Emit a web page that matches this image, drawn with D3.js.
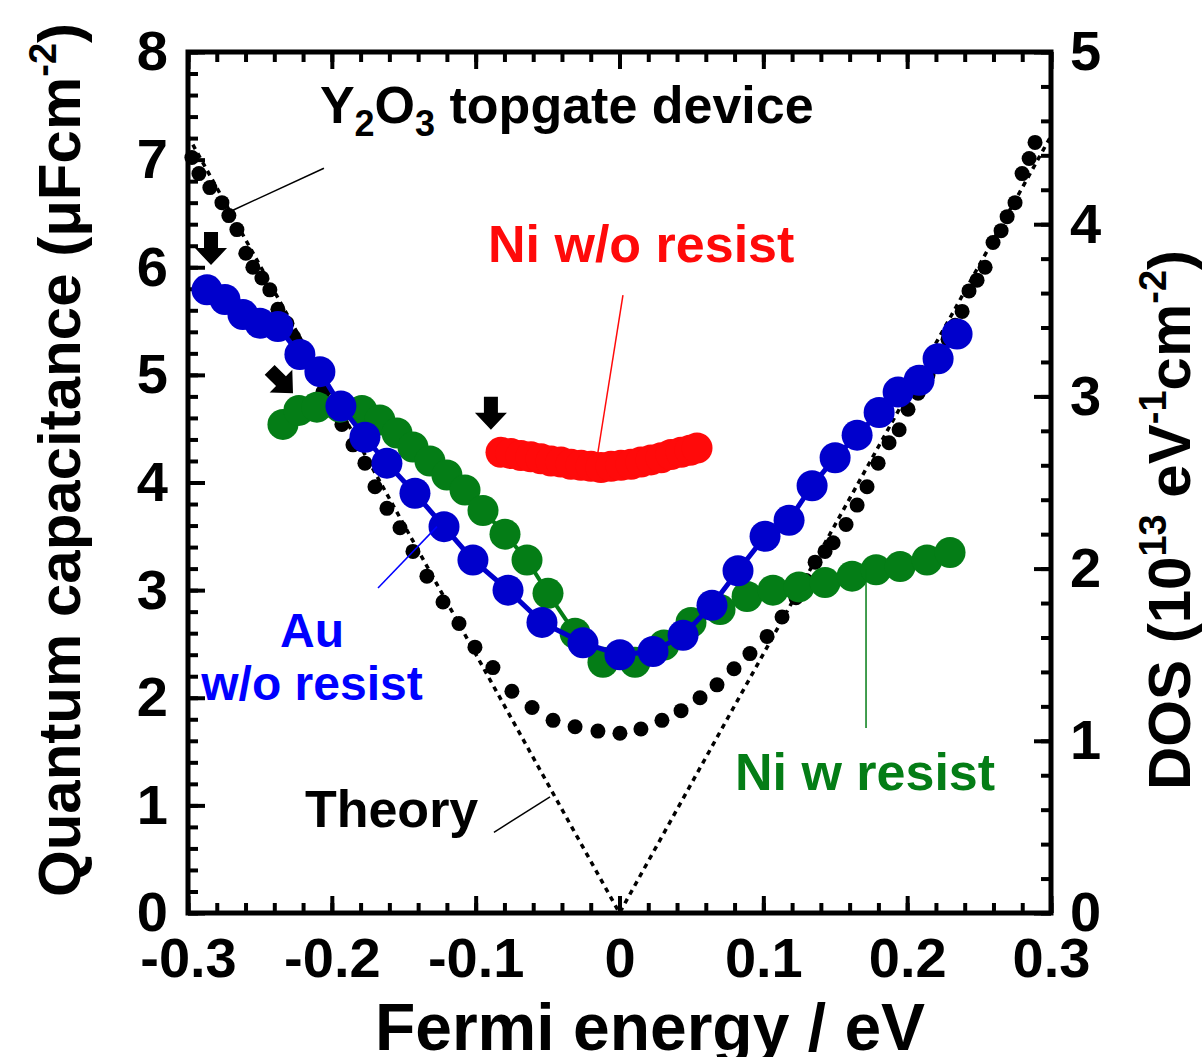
<!DOCTYPE html>
<html>
<head>
<meta charset="utf-8">
<script src="https://cdn.jsdelivr.net/npm/d3@7"></script>
<style>
  body { margin: 0; background: #fff; }
  text { font-family: "Liberation Sans", Arial, sans-serif; font-weight: bold; }
</style>
</head>
<body>
<svg width="1204" height="1057"></svg>
<script>
// tick values
var xTicks = [-0.3, -0.2, -0.1, 0, 0.1, 0.2, 0.3];
var leftTicks = [0, 1, 2, 3, 4, 5, 6, 7, 8];
var rightTicks = [0, 1, 2, 3, 4, 5];

// theory (linear DOS), dotted line
var theoryX = [-0.3, 0, 0.3];
var theoryY = [7.22, 0, 7.22];

// Y2O3 topgate device (small black dots)
var deviceX = [-0.2973, -0.2924, -0.2848, -0.2764, -0.2716, -0.266, -0.2598, -0.2549, -0.2486, -0.2431,
  -0.2375, -0.2312, -0.2264, -0.2187, -0.2131, -0.2062, -0.1999, -0.193, -0.1853, -0.177,
  -0.17, -0.1617, -0.1526, -0.1436, -0.1339, -0.1227, -0.1116, -0.1005, -0.088, -0.0748,
  -0.0608, -0.0462, -0.0309, -0.015, 0.0003, 0.0149, 0.0295, 0.0428, 0.056, 0.0678,
  0.0796, 0.0907, 0.1026, 0.113, 0.1227, 0.1297, 0.136, 0.1429, 0.1485, 0.1575,
  0.1652, 0.1721, 0.1798, 0.1874, 0.1944, 0.2006, 0.2076, 0.2145, 0.2215, 0.2284,
  0.2333, 0.2382, 0.243, 0.2486, 0.2542, 0.2597, 0.2653, 0.2695, 0.275, 0.2799,
  0.2848, 0.2889];
var deviceY = [7.02, 6.87, 6.74, 6.60, 6.48, 6.35, 6.13, 6.00, 5.90, 5.79,
  5.61, 5.48, 5.35, 5.14, 5.00, 4.84, 4.67, 4.54, 4.35, 4.18,
  3.96, 3.76, 3.58, 3.36, 3.13, 2.89, 2.69, 2.47, 2.28, 2.06,
  1.91, 1.79, 1.73, 1.69, 1.67, 1.71, 1.79, 1.88, 2.00, 2.12,
  2.27, 2.41, 2.57, 2.75, 2.93, 3.09, 3.26, 3.36, 3.44, 3.61,
  3.79, 3.96, 4.18, 4.37, 4.49, 4.68, 4.83, 5.00, 5.18, 5.33,
  5.46, 5.59, 5.78, 5.88, 6.00, 6.23, 6.34, 6.47, 6.60, 6.87,
  7.01, 7.16];

// Au w/o resist
var auX = [-0.2868, -0.2743, -0.2618, -0.25, -0.2375, -0.2222, -0.2083, -0.1937, -0.177, -0.1617,
  -0.1422, -0.122, -0.1019, -0.0775, -0.0539, -0.0254, 0.0003, 0.0233, 0.0442, 0.0643,
  0.0824, 0.1012, 0.1179, 0.1339, 0.1499, 0.1652, 0.1805, 0.1937, 0.2083, 0.2215, 0.2347];
var auY = [5.79, 5.70, 5.56, 5.48, 5.45, 5.19, 5.03, 4.71, 4.42, 4.18,
  3.90, 3.59, 3.28, 3.00, 2.70, 2.51, 2.40, 2.43, 2.58, 2.86,
  3.18, 3.50, 3.65, 3.97, 4.23, 4.44, 4.65, 4.84, 4.95, 5.15, 5.38];

// Ni w resist
var niResistX = [-0.234, -0.2229, -0.2104, -0.1944, -0.1791, -0.1666, -0.1547, -0.1436, -0.1318, -0.12,
  -0.1074, -0.0949, -0.0796, -0.0643, -0.0497, -0.0309, -0.0115, 0.0108, 0.0309, 0.0497,
  0.0699, 0.0887, 0.1067, 0.1248, 0.1429, 0.1617, 0.1784, 0.1951, 0.2138, 0.2298];
var niResistY = [4.54, 4.67, 4.70, 4.70, 4.67, 4.58, 4.46, 4.33, 4.20, 4.07,
  3.93, 3.74, 3.52, 3.28, 2.97, 2.60, 2.33, 2.33, 2.49, 2.70,
  2.82, 2.94, 3.00, 3.03, 3.07, 3.13, 3.19, 3.22, 3.28, 3.35];

// Ni w/o resist
var niX = [-0.0824, -0.0755, -0.0685, -0.0616, -0.0546, -0.0476, -0.0407, -0.0337, -0.0267, -0.0198,
  -0.0129, -0.0059, 0.001, 0.008, 0.0149, 0.0219, 0.0289, 0.0358, 0.0428, 0.049, 0.0539];
var niY = [4.28, 4.27, 4.25, 4.24, 4.22, 4.20, 4.19, 4.17, 4.16, 4.15,
  4.14, 4.15, 4.16, 4.17, 4.19, 4.21, 4.23, 4.26, 4.28, 4.30, 4.32];

var blue = "#0000cc", green = "#047d16", red = "#ff0a0a";

var margin = {top: 52, right: 153, bottom: 144, left: 188};
var width = 1204 - margin.left - margin.right;
var height = 1057 - margin.top - margin.bottom;

var svg = d3.select("svg");
var g = svg.append("g").attr("transform", "translate(" + margin.left + "," + margin.top + ")");

var xScale = d3.scaleLinear().domain([-0.3, 0.3]).range([0, width]);
var yScale = d3.scaleLinear().domain([0, 8]).range([height, 0]);
var y2Scale = d3.scaleLinear().domain([0, 5]).range([height, 0]);

var fmt = function(d) { return d === 0 ? "0" : d3.format(".1f")(d).replace("\u2212", "-"); };

function minorTicks(a, b, step) {
  var out = [];
  for (var i = 0; a + i * step <= b + 1e-9; i++) out.push(+(a + i * step).toFixed(4));
  return out;
}

// minor ticks
g.append("g").attr("transform", "translate(0," + height + ")")
  .call(d3.axisBottom(xScale).tickValues(minorTicks(-0.3, 0.3, 0.02)).tickSize(-10).tickFormat(""));
g.append("g")
  .call(d3.axisTop(xScale).tickValues(minorTicks(-0.3, 0.3, 0.02)).tickSize(-10).tickFormat(""));
g.append("g")
  .call(d3.axisLeft(yScale).tickValues(minorTicks(0, 8, 0.2)).tickSize(-10).tickFormat(""));
g.append("g").attr("transform", "translate(" + width + ",0)")
  .call(d3.axisRight(y2Scale).tickValues(minorTicks(0, 5, 0.2)).tickSize(-10).tickFormat(""));

// major ticks
g.append("g").attr("class", "x axis").attr("transform", "translate(0," + height + ")")
  .call(d3.axisBottom(xScale).tickValues(xTicks).tickSize(-17).tickPadding(24).tickFormat(fmt));
g.append("g")
  .call(d3.axisTop(xScale).tickValues(xTicks).tickSize(-17).tickFormat(""));
g.append("g").attr("class", "y axis")
  .call(d3.axisLeft(yScale).tickValues(leftTicks).tickSize(-17).tickPadding(20).tickFormat(d3.format("d")));
g.append("g").attr("class", "y axis").attr("transform", "translate(" + width + ",0)")
  .call(d3.axisRight(y2Scale).tickValues(rightTicks).tickSize(-17).tickPadding(19).tickFormat(d3.format("d")));

g.selectAll(".domain").remove();
g.selectAll(".tick line").attr("stroke", "#000").attr("stroke-width", 4);
g.selectAll(".tick text").attr("fill", "#000").style("font-size", "56px")
  .style("font-family", "'Liberation Sans', Arial, sans-serif").style("font-weight", "bold");

g.append("rect").attr("width", width).attr("height", height)
  .attr("fill", "none").attr("stroke", "#000").attr("stroke-width", 5);

// theory line
var theory = theoryX.map(function(d, i) { return {x: d, y: theoryY[i]}; });
var line = d3.line().x(function(d) { return xScale(d.x); }).y(function(d) { return yScale(d.y); });

g.append("path").datum(theory).attr("d", line)
  .attr("fill", "none").attr("stroke", "#000").attr("stroke-width", 3.5).attr("stroke-dasharray", "5,5");

// device dots
g.selectAll(".dev").data(deviceX).enter().append("circle")
  .attr("cx", function(d) { return xScale(d); })
  .attr("cy", function(d, i) { return yScale(deviceY[i]); })
  .attr("r", 7.5).attr("fill", "#000");

function series(xs, ys, color, lw) {
  var pts = xs.map(function(d, i) { return {x: d, y: ys[i]}; });
  if (lw) {
    g.append("path").datum(pts).attr("d", line)
      .attr("fill", "none").attr("stroke", color).attr("stroke-width", lw);
  }
  g.append("g").selectAll("circle").data(pts).enter().append("circle")
    .attr("cx", function(d) { return xScale(d.x); })
    .attr("cy", function(d) { return yScale(d.y); })
    .attr("r", 15.5).attr("fill", color);
}
series(niResistX, niResistY, green, 4);
series(auX, auY, blue, 5);
series(niX, niY, red, 0);

// leader lines  [x1, y1, x2, y2, color]
var leaders = [
  [-0.2688, 6.53, -0.2055, 6.92, "#000"],
  [0.0024, 5.74, -0.0156, 4.23, red],
  [-0.1679, 3.02, -0.1269, 3.59, "#0000ff"],
  [0.1714, 3.19, 0.1714, 1.72, green],
  [-0.0873, 0.75, -0.0483, 1.08, "#000"]
];
g.selectAll(".leader").data(leaders).enter().append("line")
  .attr("x1", function(d) { return xScale(d[0]); })
  .attr("y1", function(d) { return yScale(d[1]); })
  .attr("x2", function(d) { return xScale(d[2]); })
  .attr("y2", function(d) { return yScale(d[3]); })
  .attr("stroke", function(d) { return d[4]; }).attr("stroke-width", 1.5);

// arrows [x tip, y tip, rotation]
var arrows = [[-0.284, 6.02, 0], [-0.227, 4.83, -45], [-0.0894, 4.49, 0]];
g.selectAll(".arrow").data(arrows).enter().append("path")
  .attr("d", "M-7,-33 L7,-33 L7,-17 L16,-17 L0,0 L-16,-17 L-7,-17 Z")
  .attr("transform", function(d) { return "translate(" + xScale(d[0]) + "," + yScale(d[1]) + ") rotate(" + d[2] + ")"; })
  .attr("fill", "#000");

// labels
var t = g.append("text").attr("x", xScale(-0.2083)).attr("y", yScale(7.34))
  .style("font-size", "52px").attr("fill", "#000");
t.append("tspan").text("Y");
t.append("tspan").attr("dy", 13).style("font-size", "36px").text("2");
t.append("tspan").attr("dy", -13).text("O");
t.append("tspan").attr("dy", 13).style("font-size", "36px").text("3");
t.append("tspan").attr("dy", -13).text(" topgate device");

g.append("text").attr("x", xScale(-0.0914)).attr("y", yScale(6.05))
  .style("font-size", "52px").attr("fill", red).text("Ni w/o resist");

g.append("text").attr("x", xScale(-0.2138)).attr("y", yScale(2.47)).attr("text-anchor", "middle")
  .style("font-size", "48px").attr("fill", "#0000ff").text("Au");
g.append("text").attr("x", xScale(-0.2138)).attr("y", yScale(1.98)).attr("text-anchor", "middle")
  .style("font-size", "48px").attr("fill", "#0000ff").text("w/o resist");

g.append("text").attr("x", xScale(0.0803)).attr("y", yScale(1.14))
  .style("font-size", "52px").attr("fill", green).text("Ni w resist");

g.append("text").attr("x", xScale(-0.2187)).attr("y", yScale(0.80))
  .style("font-size", "52px").attr("fill", "#000").text("Theory");

// axis titles
svg.append("text").attr("x", 650).attr("y", 1050).attr("text-anchor", "middle")
  .style("font-size", "66px").text("Fermi energy / eV");

var yt = svg.append("text").attr("transform", "translate(80,460) rotate(-90)")
  .attr("text-anchor", "middle").style("font-size", "60px");
yt.append("tspan").text("Quantum capacitance (\u03bcFcm");
yt.append("tspan").attr("dy", -24).style("font-size", "38px").text("-2");
yt.append("tspan").attr("dy", 24).text(")");

var yt2 = svg.append("text").attr("transform", "translate(1190,520) rotate(-90)")
  .attr("text-anchor", "middle").style("font-size", "60px");
yt2.append("tspan").text("DOS (10");
yt2.append("tspan").attr("dy", -24).style("font-size", "38px").text("13");
yt2.append("tspan").attr("dy", 24).text(" eV");
yt2.append("tspan").attr("dy", -24).style("font-size", "38px").text("-1");
yt2.append("tspan").attr("dy", 24).text("cm");
yt2.append("tspan").attr("dy", -24).style("font-size", "38px").text("-2");
yt2.append("tspan").attr("dy", 24).text(")");
</script>
</body>
</html>
